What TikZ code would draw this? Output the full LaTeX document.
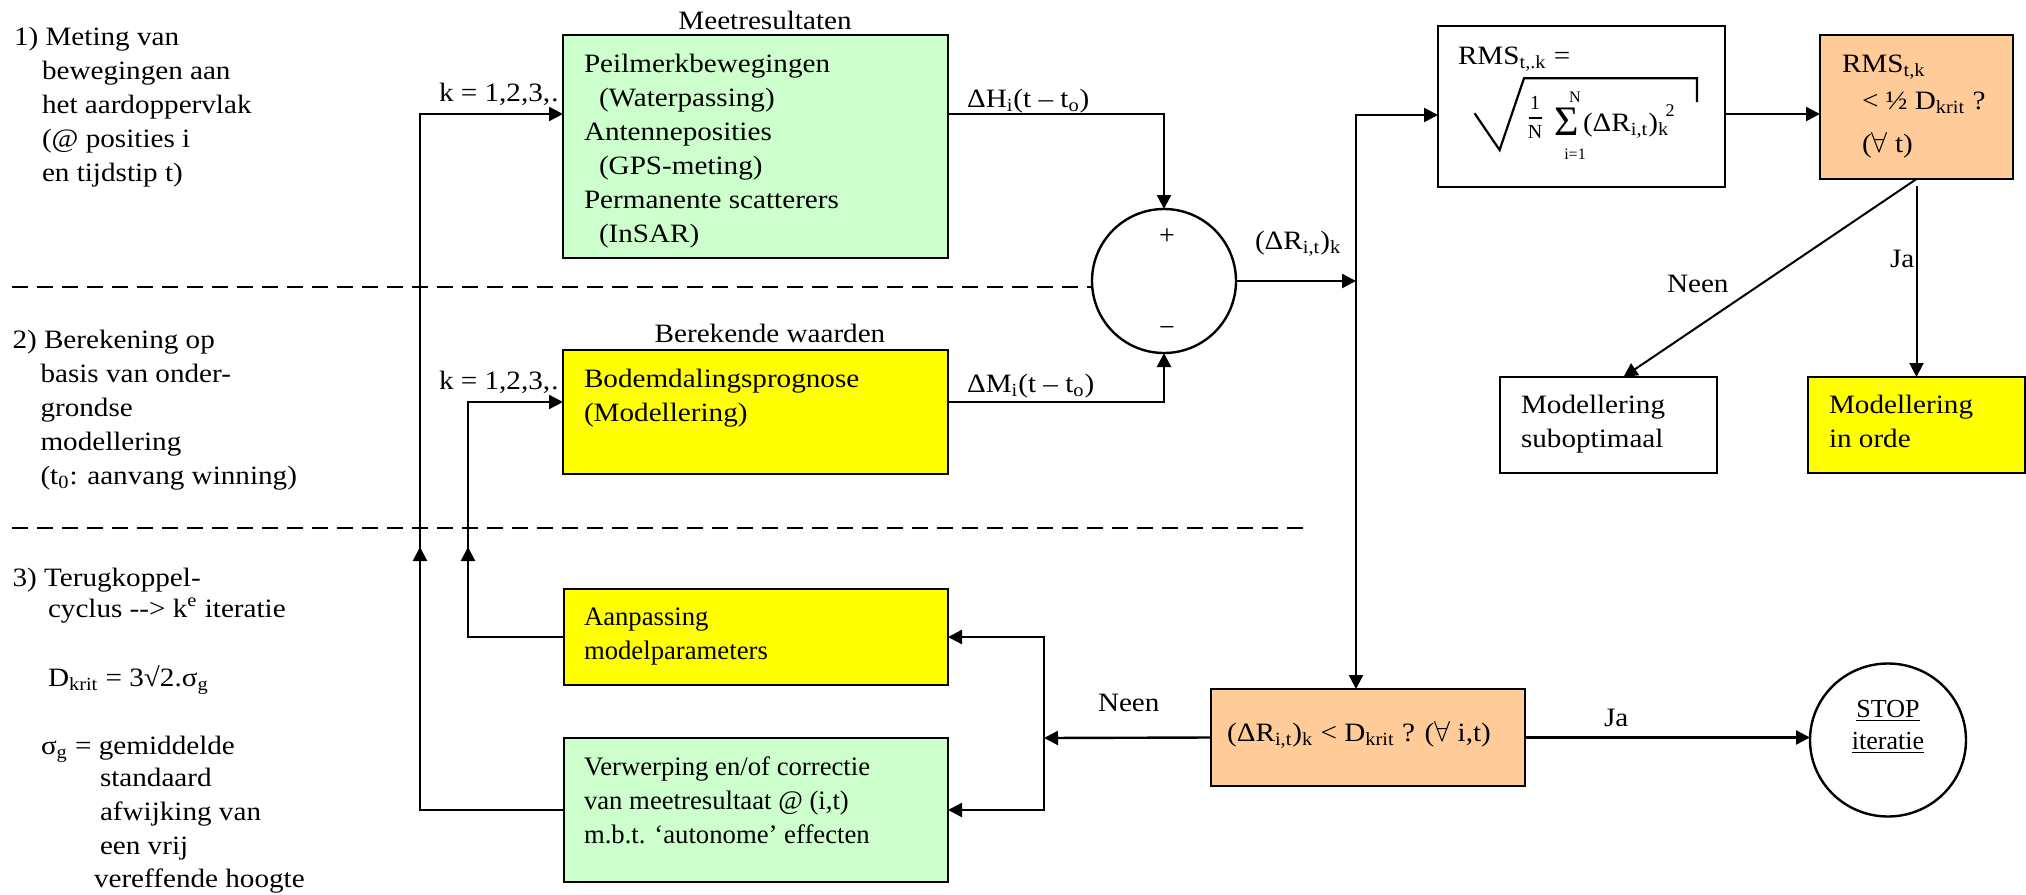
\documentclass[tikz,border=0pt]{standalone}
\usepackage{fontspec}
\setmainfont{Liberation Serif}[FakeStretch=1.1]
\newfontfamily\plainserif{Liberation Serif}
\usetikzlibrary{arrows.meta,fit,shapes.geometric}
\definecolor{boxgreen}{HTML}{CCFFCC}
\definecolor{boxyellow}{HTML}{FFFF00}
\definecolor{boxorange}{HTML}{FFCC99}
\newcommand{\mainsz}{\fontsize{13.25pt}{17pt}\selectfont}
\newcommand{\plainsz}{\fontsize{13.35pt}{17pt}\plainserif}
\newcommand{\smallsz}{\fontsize{10pt}{12pt}\selectfont}
\newcommand{\tinysz}{\fontsize{8pt}{10pt}\selectfont}
\newcommand{\ind}{\hspace*{14pt}}
\newcommand{\indb}{\hspace*{7.5pt}}
\begin{document}
\begin{tikzpicture}[x=0.5pt,y=-0.5pt,
  every node/.style={inner sep=0pt,outer sep=0pt},
  txt/.style={font=\mainsz,anchor=base west},
  ctxt/.style={font=\mainsz,anchor=base},
  mtxt/.style={font=\mainsz,anchor=north west,align=left},
  ptxt/.style={font=\plainsz,anchor=north west,align=left},
  box/.style={draw,line width=1.2pt,inner sep=0pt},
  gbox/.style={box,fill=boxgreen},
  ybox/.style={box,fill=boxyellow},
  obox/.style={box,fill=boxorange},
  wbox/.style={box,fill=white},
  conn/.style={line width=1.2pt},
  arr/.style={conn,-{Triangle[length=7pt,width=7pt]}},
  thinarr/.style={line width=1pt,-{Triangle[length=7pt,width=7pt]}},
  sep/.style={line width=1.3pt,dash pattern=on 8pt off 4.5pt},
]
\fill[white] (0,0) rectangle (2026,895);
\useasboundingbox (0,0) rectangle (2026,895);

% ---------- left column texts ----------
\node[mtxt] (l1) at (14,27) {1) Meting van\\\ind bewegingen aan\\\ind het aardoppervlak\\\ind (@ posities i\\\ind en tijdstip t)};
\node[mtxt] (l2) at (12.5,330) {2) Berekening op\\\ind basis van onder-\\\ind grondse\\\ind modellering\\\ind (t\textsubscript{0}: aanvang winning)};
\node[txt] (l3a) at (12.5,586) {3) Terugkoppel-};
\node[txt] (l3b) at (48,617) {cyclus -{}-{}> k\textsuperscript{e} iteratie};
\node[txt] (l3c) at (48,686) {D\textsubscript{krit} = 3√2.σ\textsubscript{g}};
\node[txt] (l3d) at (41,754) {σ\textsubscript{g} = gemiddelde};
\node[mtxt] (l3e) at (100,768) {standaard\\afwijking van\\een vrij};
\node[txt] (l3f) at (94,887) {vereffende hoogte};

% ---------- k labels (partly hidden by boxes) ----------
\node[txt] (k1) at (439,101) {k = 1,2,3,\dots};
\node[txt] (k2) at (439,389) {k = 1,2,3,\dots};

% ---------- boxes ----------
\node[gbox,fit={(563,35) (948,258)}] (meet) {};
\node[ybox,fit={(563,350) (948,474)}] (ber) {};
\node[ybox,fit={(564,589) (948,685)}] (aan) {};
\node[gbox,fit={(564,738) (948,882)}] (verw) {};
\node[draw,circle,line width=1.2pt,minimum size=72pt] (sum) at (1164,281) {};
\node[wbox,fit={(1438,26) (1725,187)}] (rms) {};
\node[obox,fit={(1820,35) (2013,179)}] (rmscrit) {};
\node[wbox,fit={(1500,377) (1717,473)}] (subopt) {};
\node[ybox,fit={(1808,377) (2025,473)}] (inorde) {};
\node[obox,fit={(1211,689) (1525,786)}] (crit) {};
\node[draw,ellipse,line width=1.2pt,minimum width=78pt,minimum height=76.5pt] (stop) at (1888,740) {};

% ---------- box texts ----------
\node[ctxt] (meetlab) at (765,29) {Meetresultaten};
\node[ctxt] (berlab) at (770,342) {Berekende waarden};
\node[mtxt] (meettxt) at (584,54) {Peilmerkbewegingen\\\indb(Waterpassing)\\Antenneposities\\\indb(GPS-meting)\\Permanente scatterers\\\indb(InSAR)};
\node[mtxt] (bertxt) at (584,369) {Bodemdalingsprognose\\(Modellering)};
\node[ptxt] (aantxt) at (584,608) {Aanpassing\\modelparameters};
\node[ptxt] (verwtxt) at (584,757) {Verwerping en/of correctie\\van meetresultaat @ (i,t)\\m.b.t. ‘autonome’ effecten};
\node[mtxt] (subtxt) at (1521,395) {Modellering\\suboptimaal};
\node[mtxt] (ordetxt) at (1829,395) {Modellering\\in orde};
\node[txt] (rmstxt) at (1458,64) {RMS\textsubscript{t,.k} =};
\node[txt] (rc1) at (1842,72) {RMS\textsubscript{t,k}};
\node[txt] (rc2) at (1862,109) {< ½ D\textsubscript{krit} ?};
\node[txt] (rc3) at (1862,152) {($\forall$ t)};
\node[ctxt] (crittxt) at (1359,741) {(ΔR\textsubscript{i,t})\textsubscript{k} < D\textsubscript{krit} ? ($\forall$ i,t)};
\node[font=\fontsize{13pt}{16pt}\plainserif,align=center] (stoptxt) at (1888,727) {\underline{STOP}\\\underline{iteratie}};
\node[font=\fontsize{14pt}{16pt}\plainserif] (plus) at (1167,237) {+};
\node[font=\fontsize{14pt}{16pt}\plainserif] (minus) at (1167,331) {−};

% ---------- RMS formula ----------
\draw[line width=1.1pt] (1474.6,113.3) -- (1499.6,150) -- (1524,78.3) -- (1697,78.3) -- (1697,102);
\node[font=\smallsz\plainserif] (one) at (1535,103) {1};
\draw[line width=0.6pt] (1529,118) -- (1542,118);
\node[font=\smallsz\plainserif] (nn) at (1535,132) {N};
\node[font=\fontsize{21pt}{24pt}\plainserif] (sig) at (1567,122) {Σ};
\node[font=\tinysz\plainserif] (ntop) at (1575,97) {N};
\node[font=\tinysz\plainserif] (nbot) at (1575,154) {i=1};
\node[txt] (dr) at (1583,131) {(ΔR\textsubscript{i,t})\textsubscript{k}};
\node[font=\fontsize{9pt}{11pt}\plainserif] (sq) at (1670,111) {2};

% ---------- connector labels ----------
\node[txt] (dh) at (967,107) {ΔH\textsubscript{i}(t – t\textsubscript{o})};
\node[txt] (dmlab) at (967,392) {ΔM\textsubscript{i}(t – t\textsubscript{o})};
\node[txt] (drlab) at (1255,249) {(ΔR\textsubscript{i,t})\textsubscript{k}};
\node[txt] (neen1) at (1667,292) {Neen};
\node[txt] (ja1) at (1890,267) {Ja};
\node[txt] (neen2) at (1098,711) {Neen};
\node[txt] (ja2) at (1604,726) {Ja};

% ---------- separators ----------
\coordinate (s1a) at (12,287);
\coordinate (s2a) at (12,528);
\coordinate (s2b) at (1303,528);
\draw[sep] (s1a) -- (sum.west |- s1a);
\draw[sep] (s2a) -- (s2b);

% ---------- connectors ----------
\coordinate (ko) at (420,114);
\coordinate (ki) at (468,402);
\coordinate (dhc) at (1164,114);
\coordinate (dmc) at (1164,402);
\coordinate (j) at (1356,281);
\coordinate (j2) at (1356,115);
\coordinate (ry) at (0,114);
\coordinate (b) at (1044,738);
\coordinate (koa) at (420,575);
\coordinate (koe) at (420,547);
\coordinate (kia) at (468,575);
\coordinate (kie) at (468,547);

\draw[arr] (verw.west) -| (ko) -- (meet.west |- ko);
\draw[arr] (aan.west) -| (ki) -- (ber.west |- ki);
\draw[arr] (koa) -- (koe);
\draw[arr] (kia) -- (kie);
\draw[arr] (meet.east |- dhc) -- (dhc) -- (sum.north);
\draw[arr] (ber.east |- dmc) -- (dmc) -- (sum.south);
\draw[arr] (sum.east) -- (j);
\draw[arr] (j) -- (j2) -- (rms.west |- j2);
\draw[arr] (j) -- (j |- crit.north);
\draw[arr] (rms.east |- ry) -- (rmscrit.west |- ry);
\draw[thinarr] (rmscrit.south) -- ([xshift=7.5pt]subopt.north);
\draw[thinarr] ([yshift=-3.5pt]rmscrit.south) -- (inorde.north);
\draw[arr] (crit.west) -- (b);
\draw[arr] (b) |- (aan.east);
\draw[arr] (b) |- (verw.east);
\draw[arr] (crit.east) -- (stop.west |- crit.east);
\end{tikzpicture}
\end{document}
